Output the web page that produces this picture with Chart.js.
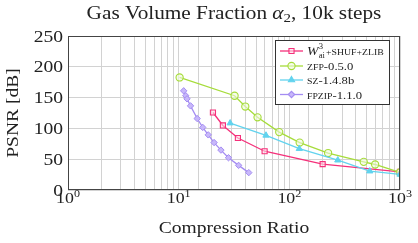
<!DOCTYPE html>
<html>
<head>
<meta charset="utf-8">
<script src="https://cdn.jsdelivr.net/npm/chart.js@4.4.1/dist/chart.umd.min.js"></script>
<style>
  html, body { margin: 0; padding: 0; background: #fff; }
  #wrap { width: 418px; height: 243px; }
</style>
</head>
<body>
<div id="wrap"><canvas id="psnrChart" width="418" height="243"></canvas></div>
<script>
// values
const wX = [20.4, 25.1, 34.3, 59.8, 200, 1000];
const wY = [125.8, 104.8, 84.4, 62.9, 42, 29.5];

const zfpX = [10.2, 32, 40, 51.6, 81, 124, 224, 470, 596, 996];
const zfpY = [182.7, 153, 135.5, 118, 94, 77, 60, 45.7, 41.4, 28.5];

const szX = [29.2, 61.5, 123, 274, 533, 1000];
const szY = [108.6, 88.7, 67, 48.4, 30.6, 25.3];

const fpzipX = [11.1, 11.6, 11.9, 12.8, 14.7, 16.5, 18.5, 20.9, 24.1, 28.2, 34.8, 43];
const fpzipY = [161, 153, 148, 136.6, 116, 101.6, 89.5, 77, 64.8, 52.4, 40, 28.2];

const xTickLabels = [1, 10, 100, 1000];
const xTickExp = ['0', '1', '2', '3'];
const yTicks = [0, 50, 100, 150, 200, 250];

const PINK = '#f5307a', GREEN = '#a6dc3a', CYAN = '#62d3ee', PURPLE = '#a48cf2';
const SERIF = '"Liberation Serif", "DejaVu Serif", serif';
const STRETCH = 1.15; // the latex font is wider than Times

function pts(xs, ys) {
    return xs.map((x, i) => ({ x: x, y: ys[i] }))
}

// width of a piece of text once stretched
function tw(ctx, str, font) {
    ctx.font = font;
    return ctx.measureText(str).width * STRETCH;
}

// draw text from its left edge, stretched horizontally, returns its width
function st(ctx, str, x, y, font) {
    ctx.save();
    ctx.font = font;
    const w = ctx.measureText(str).width * STRETCH;
    ctx.textAlign = 'left';
    ctx.translate(x, y);
    ctx.scale(STRETCH, 1);
    ctx.fillText(str, 0, 0);
    ctx.restore();
    return w;
}

// legend, titles, frame and tick labels
const decorPlugin = {
    id: 'decor',
    afterDraw(chart) {
        const ctx = chart.ctx;
        const a = chart.chartArea;
        const cx = (a.left + a.right) / 2;
        ctx.save();

        // frame
        ctx.strokeStyle = '#444';
        ctx.lineWidth = 1;
        ctx.strokeRect(Math.round(a.left) + 0.5, Math.round(a.top) + 0.5,
            Math.round(a.right - a.left) - 1, Math.round(a.bottom - a.top) - 1);

        ctx.fillStyle = '#222';
        ctx.textBaseline = 'alphabetic';

        // title
        const F = '18.5px ' + SERIF, FI = 'italic 18.5px ' + SERIF, FS = '13px ' + SERIF;
        const t1 = 'Gas Volume Fraction ', t2 = ', 10k steps';
        const total = tw(ctx, t1, F) + tw(ctx, '\u03b1', FI) + tw(ctx, '2', FS) + tw(ctx, t2, F);
        let tx = cx - total / 2;
        const ty = 18.5;
        tx += st(ctx, t1, tx, ty, F);
        tx += st(ctx, '\u03b1', tx, ty, FI);
        tx += st(ctx, '2', tx, ty + 3, FS);
        st(ctx, t2, tx, ty, F);

        // axis titles
        const FA = '17px ' + SERIF;
        st(ctx, 'Compression Ratio', cx - tw(ctx, 'Compression Ratio', FA) / 2, 233, FA);
        ctx.save();
        ctx.translate(18, (a.top + a.bottom) / 2);
        ctx.rotate(-Math.PI / 2);
        st(ctx, 'PSNR [dB]', -tw(ctx, 'PSNR [dB]', FA) / 2, 0, FA);
        ctx.restore();

        // y tick labels
        const ys = chart.scales.y;
        const FT = '17px ' + SERIF;
        yTicks.forEach(v => {
            const py = ys.getPixelForValue(v);
            const s = String(v);
            st(ctx, s, 63 - tw(ctx, s, FT), py + 5.5, FT);
        });

        // x tick labels 10^k
        const xs = chart.scales.x;
        const FB = '15.5px ' + SERIF, FE = '10.5px ' + SERIF;
        xTickLabels.forEach((v, i) => {
            const px = xs.getPixelForValue(v);
            const wb = tw(ctx, '10', FB);
            const we = tw(ctx, xTickExp[i], FE);
            const x0 = px - (wb + we) / 2;
            st(ctx, '10', x0, 203, FB);
            st(ctx, xTickExp[i], x0 + wb, 196.5, FE);
        });

        // legend
        const lx = 275.5, ly = 40.5, lw = 114, lh = 64;
        ctx.fillStyle = '#fff';
        ctx.fillRect(lx, ly, lw, lh);
        ctx.strokeStyle = '#333';
        ctx.lineWidth = 1;
        ctx.strokeRect(lx, ly, lw, lh);
        const rowsY = [51, 66, 80, 94.5];
        chart.data.datasets.forEach((ds, i) => {
            const y = rowsY[i];
            ctx.strokeStyle = ds.borderColor;
            ctx.lineWidth = 1.3;
            ctx.beginPath();
            ctx.moveTo(280, y);
            ctx.lineTo(303, y);
            ctx.stroke();
            ctx.fillStyle = ds.pointBackgroundColor;
            ctx.strokeStyle = ds.borderColor;
            ctx.lineWidth = 1.1;
            Chart.helpers.drawPoint(ctx, {
                pointStyle: ds.pointStyle, radius: ds.pointRadius, rotation: 0,
                borderWidth: 1.1
            }, 291.5, y);
        });
        ctx.fillStyle = '#222';
        // row 1: W_ai^3 +SHUF+ZLIB
        let x = 307;
        x += st(ctx, 'W', x, 55, 'italic 12px ' + SERIF) + 0.3;
        st(ctx, '3', x, 49, '7.5px ' + SERIF);
        x += st(ctx, 'ai', x, 58, '7.5px ' + SERIF) + 1;
        st(ctx, '+SHUF+ZLIB', x, 55, '8.5px ' + SERIF);
        // rows 2-4, small caps names
        const rest = [['ZFP', '-0.5.0'], ['SZ', '-1.4.8b'], ['FPZIP', '-1.1.0']];
        rest.forEach((r, i) => {
            const y = rowsY[i + 1] + 4;
            let xx = 307;
            xx += st(ctx, r[0], xx, y, '8.5px ' + SERIF);
            st(ctx, r[1], xx, y, '11px ' + SERIF);
        });

        ctx.restore();
    }
};

const ctx = document.getElementById('psnrChart');
new Chart(ctx, {
    type: 'line',
    data: {
        datasets: [
            {
                label: 'W+SHUF+ZLIB', data: pts(wX, wY), borderColor: PINK,
                pointStyle: 'rect', pointRadius: 3.6, pointBackgroundColor: 'rgba(255,220,232,0.6)',
                pointBorderColor: PINK, pointBorderWidth: 1.1, borderWidth: 1.3, order: 4
            },
            {
                label: 'ZFP-0.5.0', data: pts(zfpX, zfpY), borderColor: GREEN,
                pointStyle: 'circle', pointRadius: 3.6, pointBackgroundColor: 'rgba(240,250,220,0.6)',
                pointBorderColor: GREEN, pointBorderWidth: 1.1, borderWidth: 1.3, order: 3
            },
            {
                label: 'SZ-1.4.8b', data: pts(szX, szY), borderColor: CYAN,
                pointStyle: 'triangle', pointRadius: 3.6, pointBackgroundColor: CYAN,
                pointBorderColor: CYAN, pointBorderWidth: 1, borderWidth: 1.3, order: 2
            },
            {
                label: 'FPZIP-1.1.0', data: pts(fpzipX, fpzipY), borderColor: PURPLE,
                pointStyle: 'rectRot', pointRadius: 3.2, pointBackgroundColor: '#c8b8fa',
                pointBorderColor: PURPLE, pointBorderWidth: 1, borderWidth: 1.3, order: 1
            }
        ]
    },
    options: {
        responsive: false,
        devicePixelRatio: 1,
        animation: false,
        layout: { padding: { left: 0, top: 36, right: 18, bottom: 53 } },
        plugins: { legend: { display: false }, title: { display: false }, tooltip: { enabled: false } },
        scales: {
            x: {
                type: 'logarithmic', min: 1, max: 1000,
                afterFit: (s) => { s.height = 0 },
                border: { display: false },
                grid: { color: '#d2d2d2', lineWidth: 1, drawTicks: false },
                ticks: { autoSkip: false, callback: () => '', maxRotation: 0 }
            },
            y: {
                min: 0, max: 250,
                afterFit: (s) => { s.width = 68 },
                afterBuildTicks: (s) => { s.ticks = yTicks.map(v => ({ value: v })) },
                border: { display: false },
                grid: { color: '#d2d2d2', lineWidth: 1, drawTicks: false },
                ticks: { callback: () => '' }
            }
        }
    },
    plugins: [decorPlugin]
});
</script>
</body>
</html>
